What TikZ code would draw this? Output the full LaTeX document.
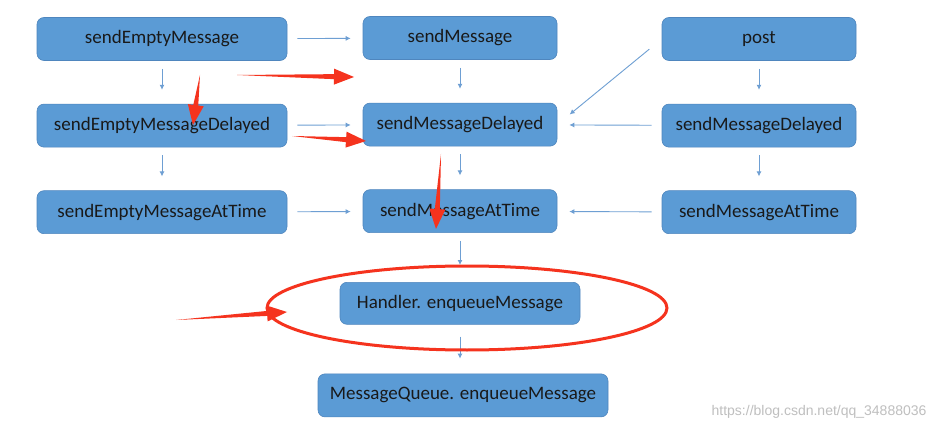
\documentclass[tikz,border=0pt]{standalone}
\usepackage{fontspec}
\setmainfont{Carlito}
\newfontfamily\wmfont{Liberation Sans}
\usepackage{xcolor}
\usepackage{tikz}
\usetikzlibrary{arrows.meta,positioning,calc}

\definecolor{boxblue}{HTML}{5B9BD5}
\definecolor{boxline}{HTML}{4F86BE}
\definecolor{linkblue}{HTML}{6E9FD3}
\definecolor{markred}{HTML}{F5331E}

% tapered red marker arrow: start point, tip
\newcommand{\redarrow}[2]{%
  \coordinate (rh) at ($(#2)!20pt!(#1)$);
  \fill[markred] (#1) -- ($(rh)!2.5pt!90:(#2)$) -- ($(rh)!8pt!90:(#2)$) -- (#2)
    -- ($(rh)!8pt!-90:(#2)$) -- ($(rh)!2.5pt!-90:(#2)$) -- cycle;}

\begin{document}
\begin{tikzpicture}[x=1pt,y=-1pt,>={Latex[length=5pt,width=5pt]},node distance=43pt and 76pt,
 box/.style={rectangle,rounded corners=7pt,draw=boxline,line width=0.6pt,fill=boxblue,
   minimum height=43pt,inner sep=2pt,font=\fontsize{19}{21}\selectfont,text=black!90},
 wide/.style={box,minimum width=250pt},mid/.style={box,minimum width=194pt},
 link/.style={->,draw=linkblue,line width=0.9pt,shorten <=10pt,shorten >=12pt}]
\useasboundingbox[fill=white] (0,0) rectangle (938,433);
% left column
\node[wide] (sem) at (162,39) {sendEmptyMessage};
\node[wide,below=of sem] (semd) {sendEmptyMessageDelayed};
\node[wide,below=of semd] (semt) {sendEmptyMessageAtTime};
% middle column
\node[mid] (sm) at (460,38) {sendMessage};
\node[mid,below=of sm] (smd) {sendMessageDelayed};
\node[mid,below=of smd] (smt) {sendMessageAtTime};
% right column
\node[mid] (post) at (759,39) {post};
\node[mid,below=of post] (pd) {sendMessageDelayed};
\node[mid,below=of pd] (pt) {sendMessageAtTime};
% queue
\node[box,minimum width=240pt,minimum height=42pt,below=49pt of smt] (henq) {Handler. enqueueMessage};
\node[box,minimum width=290pt,below=49pt of henq,xshift=3pt] (mqenq) {MessageQueue. enqueueMessage};

\draw[link] (sem) -- (sm);
\draw[link] (semd) -- (smd);
\draw[link] (semt) -- (smt);
\draw[link] (pd) -- (smd);
\draw[link] (pt) -- (smt);
\draw[link,shorten <=16pt,shorten >=16pt] (post.west) -- (smd.east);
\draw[link,shorten <=8pt,shorten >=14pt] (sem) -- (semd);
\draw[link,shorten <=8pt,shorten >=14pt] (semd) -- (semt);
\draw[link,shorten <=8pt,shorten >=14pt] (sm) -- (smd);
\draw[link,shorten <=8pt,shorten >=14pt] (smd) -- (smt);
\draw[link,shorten <=8pt,shorten >=14pt] (post) -- (pd);
\draw[link,shorten <=8pt,shorten >=14pt] (pd) -- (pt);
\draw[link,shorten <=8pt,shorten >=17pt] (smt) -- (henq);
\draw[link,shorten <=12pt,shorten >=15pt] (henq.south) -- (henq.south |- mqenq.north);

% red marks
\draw[markred,line width=3pt] (467,308) ellipse [x radius=200pt,y radius=42pt];
\redarrow{237,75}{354,77}
\redarrow{200,75}{193,125}
\redarrow{292,136}{366,141}
\redarrow{441,154}{436,229}
\redarrow{176,320}{287,312}

\node[font=\wmfont\fontsize{14}{16}\selectfont,text=black!25,anchor=east] (wm) at (930,412) {https://blog.csdn.net/qq\_34888036};
\end{tikzpicture}
\end{document}
